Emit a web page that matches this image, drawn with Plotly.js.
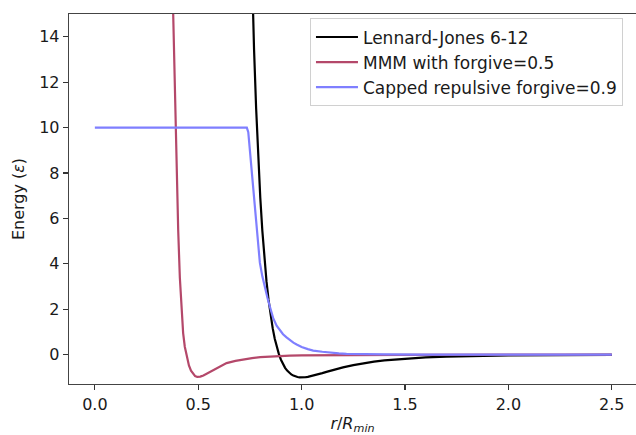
<!DOCTYPE html>
<html>
<head>
<meta charset="utf-8">
<script src="https://cdn.plot.ly/plotly-3.0.1.min.js"></script>
<style>html,body{margin:0;padding:0;background:#fff}</style>
</head>
<body>
<div id="chart" style="width:636px;height:435px"></div>
<script>
// Lennard-Jones 6-12
const ljR = [0.75,0.76,0.77,0.78,0.79,0.80,0.81,0.82,0.83,0.84,0.85,0.86,0.87,0.88,0.89,0.90,0.91,0.92,0.93,0.94,0.95,0.96,0.97,0.98,0.99,1.0,1.01,1.02,1.03,1.05,1.07,1.1,1.12,1.15,1.2,1.25,1.3,1.35,1.4,1.5,1.6,1.7,1.8,2.0,2.25,2.5];
const ljE = [20.3,16.55,13.42,10.84,8.70,6.92,5.455,4.24,3.238,2.41,1.727,1.17,0.706,0.33,0.024,-0.22,-0.421,-0.579,-0.70,-0.798,-0.870,-0.92,-0.960,-0.983,-0.996,-1.0,-0.997,-0.987,-0.974,-0.936,-0.889,-0.81,-0.757,-0.678,-0.558,-0.456,-0.371,-0.303,-0.248,-0.168,-0.116,-0.081,-0.058,-0.031,-0.015,-0.008];
// MMM with forgive=0.5
const mmmR = [0.370,0.379,0.387,0.395,0.403,0.411,0.419,0.427,0.435,0.445,0.455,0.465,0.475,0.485,0.495,0.5,0.51,0.525,0.54,0.556,0.575,0.6,0.637,0.68,0.717,0.76,0.8,0.85,0.943,1.0,1.2,1.5,2.0,2.5];
const mmmE = [18.5,15.0,11.2,8.0,5.5,3.4,1.9,0.95,0.35,-0.15,-0.47,-0.70,-0.85,-0.94,-0.98,-0.985,-0.965,-0.915,-0.845,-0.755,-0.655,-0.53,-0.37,-0.275,-0.205,-0.15,-0.11,-0.08,-0.04,-0.03,-0.01,-0.005,0,0];
// Capped repulsive forgive=0.9
const capR = [0,0.735,0.742,0.75,0.758,0.766,0.774,0.782,0.79,0.798,0.81,0.822,0.835,0.847,0.862,0.879,0.895,0.91,0.927,0.943,0.96,0.976,1.0,1.03,1.056,1.1,1.137,1.18,1.217,1.3,1.4,1.6,2.0,2.5];
const capE = [10,10,9.8,9.0,8.1,7.1,6.3,5.5,4.7,4.05,3.45,2.95,2.5,2.1,1.62,1.28,1.06,0.9,0.76,0.64,0.53,0.45,0.34,0.245,0.18,0.13,0.09,0.06,0.04,0.02,0.01,0.005,0.002,0.001];

const names = ["Lennard-Jones 6-12", "MMM with forgive=0.5", "Capped repulsive forgive=0.9"];
const colors = ["#000000", "#b4486a", "#7f7fff"];
const xTicks = [0, 0.5, 1.0, 1.5, 2.0, 2.5];
const xTickText = ["0.0", "0.5", "1.0", "1.5", "2.0", "2.5"];
const yTicks = [0, 2, 4, 6, 8, 10, 12, 14];

const series = [[ljR, ljE], [mmmR, mmmE], [capR, capE]];
const traces = series.map((s, i) => ({
  x: s[0], y: s[1], type: "scatter", mode: "lines", name: names[i],
  line: {color: colors[i], width: 2.2}
}));

const FONT = "DejaVu Sans, sans-serif";
const layout = {
  width: 636, height: 435,
  margin: {l: 69, r: 0, t: 14, b: 51, pad: 0},
  paper_bgcolor: "#ffffff", plot_bgcolor: "#ffffff",
  font: {family: FONT, size: 16, color: "#1a1a1a"},
  showlegend: true,
  legend: {
    x: 0.425, y: 0.988, xanchor: "left", yanchor: "top",
    bgcolor: "#ffffff", bordercolor: "#d0d0d0", borderwidth: 1,
    itemwidth: 42,
    font: {family: FONT, size: 17, color: "#1a1a1a"}
  },
  xaxis: {
    range: [-0.125, 2.617], tickvals: xTicks, ticktext: xTickText,
    ticks: "outside", ticklen: 5, tickwidth: 1.2, tickcolor: "#333",
    showline: true, linecolor: "#444", linewidth: 1.3, mirror: true,
    showgrid: false, zeroline: false,
    title: {text: "<i>r</i>/<i>R</i><sub><i>min</i></sub>", font: {family: FONT, size: 16}, standoff: 5}
  },
  yaxis: {
    range: [-1.29, 15], tickvals: yTicks,
    ticks: "outside", ticklen: 5, tickwidth: 1.2, tickcolor: "#333",
    showline: true, linecolor: "#444", linewidth: 1.3, mirror: false,
    showgrid: false, zeroline: false,
    title: {text: "Energy (<i>ε</i>)", font: {family: FONT, size: 16}, standoff: 10}
  }
};

Plotly.newPlot("chart", traces, layout, {displayModeBar: false, staticPlot: true});
</script>
</body>
</html>
